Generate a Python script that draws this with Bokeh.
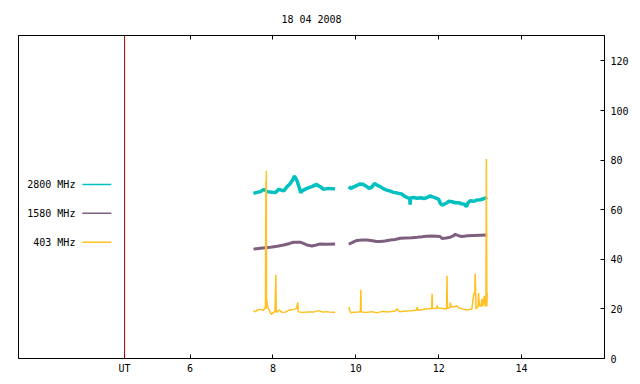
from bokeh.plotting import figure
from bokeh.models import Range1d, LinearAxis, FixedTicker, Span, Label, CustomJSTickFormatter
from bokeh.embed import file_html
from bokeh.resources import INLINE

nan = float("nan")

# ---- data (hours UT, flux units) ----
title_text = "18 04 2008"
ut_marker = 4.42
x_ticks = [4.42, 6, 8, 10, 12, 14]
y_ticks = [0, 20, 40, 60, 80, 100, 120]

t2800 = [7.53, 7.62, 7.70, 7.78, 7.86, 7.98, 8.06, 8.14, 8.26, 8.34, 8.42, 8.48, 8.52,
         8.58, 8.64, 8.67, 8.70, 8.82, 8.94, 9.05, 9.14, 9.22, 9.34, 9.50,
         nan,
         9.83, 9.88, 9.95, 10.03, 10.10, 10.17, 10.25, 10.32, 10.38, 10.45, 10.52, 10.59,
         10.67, 10.75, 10.83, 10.91, 10.98, 11.05, 11.11, 11.18, 11.24, 11.30, 11.31, 11.32,
         11.40, 11.48, 11.56, 11.64, 11.72, 11.80, 11.85, 11.92, 12.00, 12.04, 12.08, 12.13,
         12.18, 12.24, 12.32, 12.40, 12.48, 12.55, 12.62, 12.67, 12.70, 12.76, 12.84, 12.92,
         13.00, 13.08, 13.17]
v2800 = [66.6, 67.0, 67.3, 68.2, 67.3, 67.0, 66.9, 68.2, 67.6, 69.3, 70.6, 72.2, 73.6,
         71.7, 68.6, 66.8, 67.6, 68.6, 69.3, 70.2, 69.3, 68.2, 68.6, 68.4,
         nan,
         69.3, 68.6, 69.2, 69.8, 70.4, 70.3, 69.5, 68.6, 69.0, 70.6, 69.8, 69.3,
         68.4, 67.9, 67.5, 67.0, 66.8, 66.5, 66.3, 65.4, 64.9, 64.6, 62.0, 64.7,
         64.9, 64.6, 64.8, 64.5, 64.9, 65.6, 65.2, 64.8, 64.2, 62.5, 61.9, 62.2,
         62.6, 63.4, 63.2, 62.8, 62.8, 62.4, 62.2, 61.2, 62.6, 63.6, 63.4, 63.9,
         64.0, 64.4, 65.0]

t1580 = [7.53, 7.70, 7.94, 8.10, 8.26, 8.40, 8.50, 8.66, 8.82, 8.94, 9.05, 9.14, 9.30, 9.50,
         nan,
         9.83, 9.90, 9.97, 10.03, 10.15, 10.27, 10.40, 10.50, 10.59, 10.70, 10.83, 10.95,
         11.07, 11.20, 11.35, 11.48, 11.60, 11.70, 11.80, 11.95, 12.03, 12.08, 12.18, 12.28,
         12.35, 12.40, 12.48, 12.56, 12.70, 12.84, 13.00, 13.17]
v1580 = [44.1, 44.5, 44.9, 45.3, 45.8, 46.4, 46.9, 46.9, 45.8, 45.4, 45.8, 46.2, 46.1, 46.2,
         nan,
         46.1, 46.6, 47.2, 47.6, 47.8, 47.8, 47.5, 47.2, 47.2, 47.4, 47.8, 48.0,
         48.5, 48.6, 48.7, 48.9, 49.1, 49.3, 49.4, 49.3, 49.2, 48.4, 48.6, 48.9,
         49.4, 50.1, 49.5, 49.2, 49.5, 49.6, 49.7, 49.8]

t403 = [7.53, 7.58, 7.62, 7.70, 7.76, 7.80, 7.82, 7.83, 7.835, 7.84, 7.845, 7.85, 7.86, 7.88,
        7.92, 7.96, 8.00, 8.05, 8.07, 8.08, 8.15, 8.22, 8.30, 8.40, 8.50, 8.57, 8.60, 8.61,
        8.70, 8.85, 9.00, 9.10, 9.20, 9.30, 9.40, 9.50,
        nan,
        9.83, 9.85, 9.88, 9.95, 10.05, 10.11, 10.12, 10.13, 10.25, 10.40, 10.50, 10.65,
        10.80, 10.95, 11.00, 11.05, 11.20, 11.35, 11.47, 11.48, 11.50, 11.65, 11.80, 11.83,
        11.84, 11.85, 11.95, 11.96, 11.98, 12.10, 12.19, 12.20, 12.21, 12.27, 12.28, 12.30,
        12.40, 12.44, 12.47, 12.60, 12.70, 12.80, 12.82, 12.85, 12.87, 12.88, 12.90, 12.95,
        12.96, 12.98, 13.02, 13.04, 13.06, 13.10, 13.12, 13.14, 13.15, 13.16, 13.17]
v403 = [19.3, 18.8, 19.6, 19.8, 19.4, 20.0, 21.0, 71.5, 20.0, 75.7, 21.0, 24.0, 22.0, 20.5,
        19.2, 17.8, 18.4, 19.0, 33.8, 18.6, 19.5, 18.6, 18.7, 19.6, 19.8, 20.2, 22.6, 18.8,
        18.6, 18.8, 18.8, 19.3, 18.7, 18.9, 18.6, 18.7,
        nan,
        20.8, 19.4, 18.4, 18.7, 18.8, 18.9, 27.7, 18.8, 18.6, 18.9, 18.4, 19.0,
        18.8, 19.2, 20.0, 18.9, 19.2, 19.3, 19.6, 20.8, 19.5, 19.9, 20.2, 20.0,
        26.1, 20.3, 20.2, 21.3, 20.4, 20.2, 20.0, 33.4, 20.3, 20.6, 22.6, 20.8,
        21.0, 21.3, 20.5, 19.9, 19.6, 20.0, 23.0, 26.4, 26.0, 34.2, 20.0, 21.0,
        26.4, 21.3, 21.0, 24.1, 21.0, 25.3, 21.0, 25.0, 80.4, 21.0, 26.4]

series_names = ["2800 MHz", "1580 MHz", "403 MHz"]
series_colors = ["#00c0c0", "#7f5f7f", "#ffc020"]

# ---- figure ----
FONT = "DejaVu Sans Mono"
p = figure(width=632, height=376, output_backend="svg", toolbar_location=None,
           x_range=Range1d(1.86, 16.0), y_range=Range1d(0, 130.25),
           y_axis_location="right", title=title_text,
           min_border_left=18, min_border_right=28, min_border_top=35, min_border_bottom=17)
p.title.align = "center"
p.title.text_font = FONT
p.title.text_font_size = "10px"
p.title.text_font_style = "normal"
p.title.text_color = "black"
p.title.standoff = 22
p.xgrid.visible = False
p.ygrid.visible = False
p.outline_line_color = "black"
p.outline_line_width = 1
p.background_fill_color = "white"
p.border_fill_color = "white"

def style_axis(ax):
    ax.axis_line_color = "black"
    ax.major_tick_in = 4
    ax.major_tick_out = 0
    ax.minor_tick_line_color = None
    ax.major_tick_line_color = "black"
    ax.major_label_text_font = FONT
    ax.major_label_text_font_size = "10px"
    ax.major_label_text_color = "black"

xa = p.xaxis[0]
xa.ticker = FixedTicker(ticks=x_ticks)
xa.major_label_overrides = {ut_marker: "UT"}
xa.major_label_standoff = 4
style_axis(xa)

ya = p.yaxis[0]
ya.ticker = FixedTicker(ticks=y_ticks)
ya.major_label_standoff = 6
style_axis(ya)

top = LinearAxis(ticker=FixedTicker(ticks=x_ticks[1:]),
                 formatter=CustomJSTickFormatter(code="return ''"))
style_axis(top)
top.major_label_standoff = 0
p.add_layout(top, "above")

p.add_layout(Span(location=ut_marker, dimension="height", line_color="#a00000", line_width=1))

p.line(t2800, v2800, line_color=series_colors[0], line_width=3.5)
p.line(t1580, v1580, line_color=series_colors[1], line_width=3)
p.line(t403, v403, line_color=series_colors[2], line_width=1.5)

# legend (label left of sample line, as in reference)
leg_y = [70.2, 58.6, 46.9]
for name, col, yy in zip(series_names, series_colors, leg_y):
    p.add_layout(Label(x=3.233, y=yy, text=name, text_align="right", text_baseline="middle",
                       text_font=FONT, text_font_size="10px", text_color="black"))
    p.segment(x0=[3.40], y0=[yy], x1=[4.10], y1=[yy], line_color=col, line_width=1.5)

open("out.html", "w").write(file_html(p, INLINE))
